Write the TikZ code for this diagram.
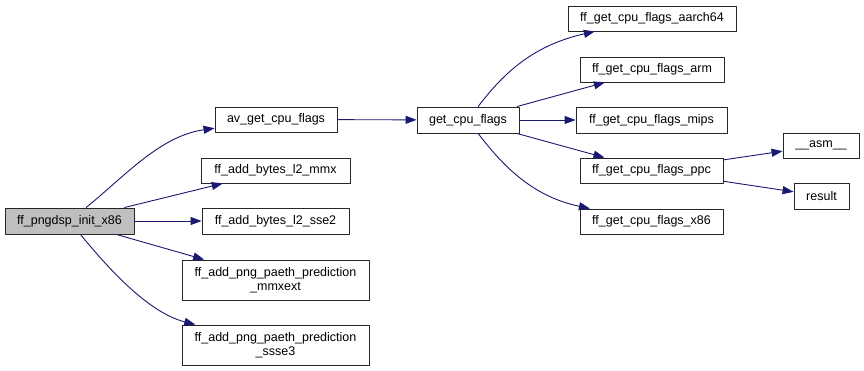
\documentclass[tikz,border=0pt]{standalone}
\usepackage{fontspec}
\setmainfont{Liberation Sans}
\usetikzlibrary{arrows.meta}
\usetikzlibrary{shapes}

\definecolor{edgeblue}{RGB}{25,25,112}
\definecolor{rootgray}{RGB}{191,191,191}

\begin{document}
\begin{tikzpicture}[>={Triangle[length=11bp,width=8bp]},line join=bevel,
  fn/.style={draw=black!85,fill=white,line width=0.9bp,inner sep=0pt,align=center,
    minimum height=25bp,font=\fontsize{12.5bp}{14.5bp}\selectfont},
  call/.style={edgeblue,line width=0.9bp,->}]
\useasboundingbox [fill=white] (0bp,0bp) rectangle (864bp,371bp);
%%
\node (node_0) at (69.5bp,150bp) [fn,fill=rootgray,minimum width=129bp,minimum height=26bp] {ff\_pngdsp\_init\_x86};
  \node (node_1) at (276bp,251.5bp) [fn,minimum width=122bp] {av\_get\_cpu\_flags};
  \node (node_2) at (468bp,251bp) [fn,minimum width=102bp,minimum height=26bp] {get\_cpu\_flags};
  \node (node_3) at (652bp,352.5bp) [fn,minimum width=168bp] {ff\_get\_cpu\_flags\_aarch64};
  \node (node_4) at (652bp,301.5bp) [fn,minimum width=144bp] {ff\_get\_cpu\_flags\_arm};
  \node (node_5) at (651.5bp,251bp) [fn,minimum width=151bp,minimum height=26bp] {ff\_get\_cpu\_flags\_mips};
  \node (node_6) at (651.5bp,200.5bp) [fn,minimum width=143bp] {ff\_get\_cpu\_flags\_ppc};
  \node (node_7) at (821bp,225.5bp) [fn,minimum width=76bp] {\_\_asm\_\_};
  \node (node_8) at (821.5bp,175bp) [fn,minimum width=55bp,minimum height=26bp] {result};
  \node (node_9) at (651.5bp,149.5bp) [fn,minimum width=143bp] {ff\_get\_cpu\_flags\_x86};
  \node (node_10) at (275.5bp,200.5bp) [fn,minimum width=149bp] {ff\_add\_bytes\_l2\_mmx};
  \node (node_11) at (275.5bp,150bp) [fn,minimum width=147bp,minimum height=26bp] {ff\_add\_bytes\_l2\_sse2};
  \node (node_12) at (275.5bp,91bp) [fn,minimum width=187bp,minimum height=40bp] {ff\_add\_png\_paeth\_prediction\\\_mmxext};
  \node (node_13) at (275.5bp,26bp) [fn,minimum width=187bp,minimum height=40bp] {ff\_add\_png\_paeth\_prediction\\\_ssse3};
  \draw [call] (node_0) ..controls (125bp,195bp) and (160bp,235bp)  .. (node_1);
  \draw [call] (node_0) -- (node_10);
  \draw [call] (node_0) -- (node_11);
  \draw [call] (node_0) -- (node_12);
  \draw [call] (node_0) ..controls (112bp,98bp) and (150bp,58bp)  .. (node_13);
  \draw [call] (node_1) -- (node_2);
  \draw [call] (node_2) ..controls (505bp,300bp) and (535bp,326bp)  .. (node_3);
  \draw [call] (node_2) -- (node_4);
  \draw [call] (node_2) -- (node_5);
  \draw [call] (node_2) -- (node_6);
  \draw [call] (node_2) ..controls (505bp,202bp) and (535bp,174bp)  .. (node_9);
  \draw [call] (node_6) -- (node_7);
  \draw [call] (node_6) -- (node_8);
%
\end{tikzpicture}
\end{document}
